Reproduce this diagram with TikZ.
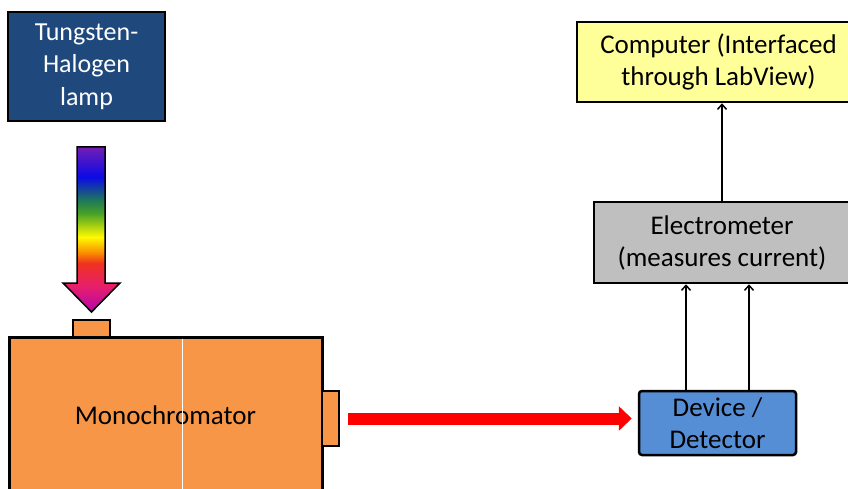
\documentclass[tikz,border=0pt]{standalone}
\usepackage{fontspec}
\setmainfont{Carlito}
\usetikzlibrary{arrows.meta}
\definecolor{lampblue}{HTML}{1F497D}
\definecolor{monoorange}{HTML}{F79646}
\definecolor{compyellow}{HTML}{FFFF99}
\definecolor{elecgray}{HTML}{BFBFBF}
\definecolor{devblue}{HTML}{558ED5}
\definecolor{rbmag}{RGB}{190,10,160}
\definecolor{rbpink}{RGB}{230,30,110}
\definecolor{rbred}{RGB}{240,50,30}
\definecolor{rborange}{RGB}{250,140,0}
\definecolor{rbyellow}{RGB}{255,250,0}
\definecolor{rbgreen}{RGB}{70,160,40}
\definecolor{rbteal}{RGB}{30,120,90}
\definecolor{rbblue}{RGB}{10,10,230}
\definecolor{rbpurple}{RGB}{115,30,180}
\pgfdeclareverticalshading{rainbow}{100bp}{color(0bp)=(rbmag); color(26.5bp)=(rbmag); color(32.6bp)=(rbpink); color(39.8bp)=(rbred); color(42.9bp)=(rborange); color(47.7bp)=(rbyellow); color(55bp)=(rbgreen); color(58.9bp)=(rbteal); color(65.9bp)=(rbblue); color(75bp)=(rbpurple); color(100bp)=(rbpurple)}
\tikzset{
  box/.style={draw=black, line width=2.5pt, align=center, inner sep=0pt, font=\fontsize{27}{32}\selectfont},
  port/.style={draw=black, line width=2pt, fill=monoorange, inner sep=0pt},
  sig/.style={line width=1.5pt, -{Straight Barb[length=5pt,width=9pt,line width=1.5pt]}},
  beam/.style={draw=red, line width=12pt, -{Triangle[length=13pt,width=24pt]}}
}
\begin{document}
\begin{tikzpicture}[x=1pt,y=-1pt]
\useasboundingbox (0,0) rectangle (848,489);
\clip (0,0) rectangle (848,489);
% lamp
\node[box, fill=lampblue, text=white, line width=2pt, minimum width=157pt, minimum height=109pt, font=\fontsize{26}{32.5}\selectfont] (lamp) at (86.5,66.5) {Tungsten-\\Halogen\\lamp};
% rainbow arrow
\shadedraw[shading=rainbow, draw=black, line width=1.5pt, line join=miter]
  (77,147) -- (105,147) -- (105,283) -- (120,283) -- (91.5,312) -- (63,283) -- (77,283) -- cycle;
% monochromator
\node[box, fill=monoorange, line width=3pt, minimum width=313pt, minimum height=156pt] (mono) at (165.5,415) {Monochromator};
\draw[white, line width=0.7pt] (182,338.5) -- (182,489);
\node[port, minimum width=37pt, minimum height=17pt] (topport) at (91.5,328.5) {};
\node[port, minimum width=17pt, minimum height=55pt] (sideport) at (330.5,418.5) {};
% right side
\node[box, fill=devblue, rounded corners=3pt, minimum width=157pt, minimum height=64pt] (det) at (717.5,423) {Device /\\Detector};
\node[box, fill=elecgray, minimum width=256pt, minimum height=81pt] (elec) at (722,242.5) {Electrometer\\(measures current)};
\node[box, fill=compyellow, minimum width=283pt, minimum height=80pt] (comp) at (718.5,62) {Computer (Interfaced\\through LabView)};
% connectors
\draw[beam, shorten <=8pt, shorten >=6pt] (sideport.east) -- (det.west |- sideport.east);
\draw[sig] (det.north -| 686,0) -- (elec.south -| 686,0);
\draw[sig] (det.north -| 749,0) -- (elec.south -| 749,0);
\draw[sig] (elec.north -| 722,0) -- (comp.south -| 722,0);
\end{tikzpicture}
\end{document}
